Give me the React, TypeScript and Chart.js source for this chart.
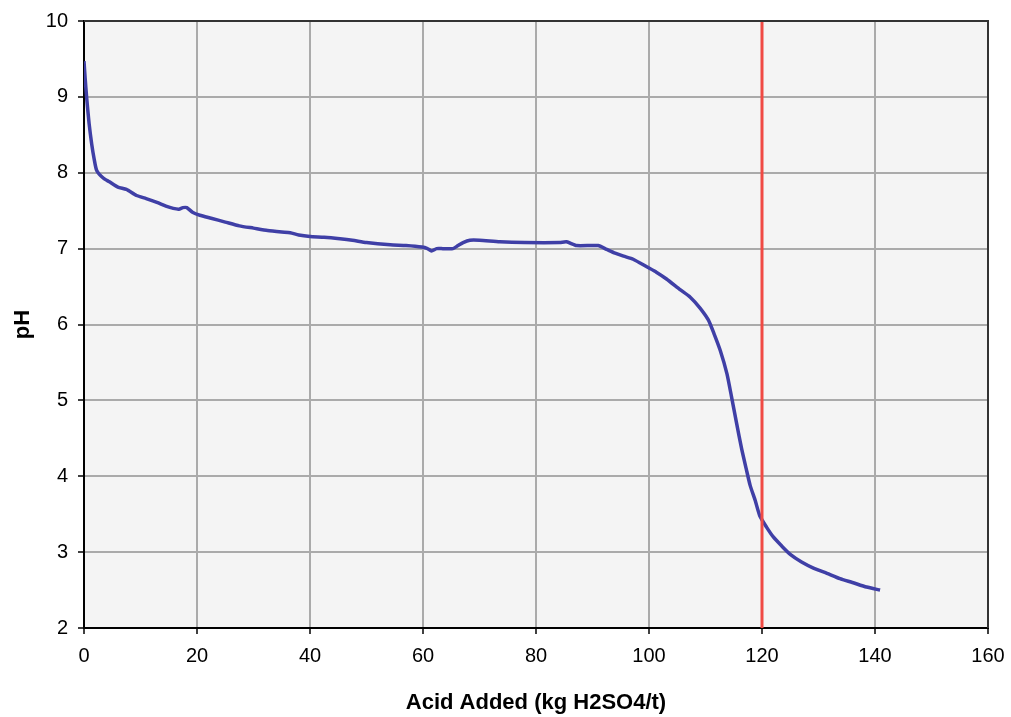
import React, { useEffect, useRef } from "react";
import { Chart, registerables } from "chart.js";

Chart.register(...registerables);

const acidAdded: number[] = [
  0, 0.2, 0.47, 0.9, 1.36, 1.8, 2.25, 3.4, 4.5, 6.0, 7.5, 9.3, 11, 12.9, 14.5, 15.8, 16.8, 17.5, 18.2, 19.2,
  20.5, 22.5, 25, 27.5, 30, 32.5, 35, 36.5, 38, 40, 42.5, 45.3, 47.5, 50, 54.2, 57, 59.8, 60.8, 61.5, 62.4,
  63.5, 65.3, 66.2, 67.1, 68.3, 70, 73.6, 78, 84.2, 85.4, 87.2, 91, 92.5, 94, 95.5, 97.2, 99.6, 101.3, 103.1,
  105.5, 107.3, 109, 110.5, 111.5, 112.6, 113.8, 114.6, 115.5, 116.4, 117.2, 117.9, 118.8, 119.6, 120.8, 122,
  123.5, 125, 127, 129.1, 131.5, 133.8, 136, 138.5, 140.9,
];

const phValues: number[] = [
  9.47, 9.25, 8.99, 8.65, 8.38, 8.18, 8.03, 7.93, 7.88, 7.81, 7.78, 7.7, 7.66, 7.61, 7.56, 7.53, 7.52, 7.54, 7.54, 7.48,
  7.44, 7.4, 7.35, 7.3, 7.27, 7.24, 7.22, 7.21, 7.18, 7.16, 7.15, 7.13, 7.11, 7.08, 7.05, 7.04, 7.02, 7.0, 6.97, 7.0,
  7.0, 7.0, 7.04, 7.08, 7.11, 7.11, 7.09, 7.08, 7.08, 7.09, 7.04, 7.04, 6.99, 6.94, 6.9, 6.86, 6.76, 6.69, 6.6,
  6.46, 6.36, 6.22, 6.06, 5.88, 5.66, 5.35, 5.05, 4.7, 4.36, 4.1, 3.88, 3.68, 3.48, 3.33, 3.2,
  3.08, 2.97, 2.87, 2.79, 2.72, 2.65, 2.6, 2.54, 2.5,
];

const markerX: number[] = [120, 120];
const markerY: number[] = [2, 10];

const xTitle = "Acid Added (kg H2SO4/t)";
const yTitle = "pH";

const FONT = "'Liberation Sans', Arial, sans-serif";

const bgPlugin = {
  id: "plotBg",
  beforeDraw(chart: any) {
    const { ctx, chartArea } = chart;
    ctx.save();
    ctx.fillStyle = "#f4f4f4";
    ctx.fillRect(chartArea.left, chartArea.top, chartArea.right - chartArea.left, chartArea.bottom - chartArea.top);
    ctx.restore();
  },
  afterDraw(chart: any) {
    const { ctx, chartArea } = chart;
    ctx.save();
    ctx.strokeStyle = "#333333";
    ctx.lineWidth = 2;
    ctx.beginPath();
    ctx.moveTo(chartArea.left, chartArea.top);
    ctx.lineTo(chartArea.right, chartArea.top);
    ctx.lineTo(chartArea.right, chartArea.bottom);
    ctx.stroke();
    ctx.restore();
  },
};

export default function App() {
  const ref = useRef<HTMLCanvasElement | null>(null);

  useEffect(() => {
    if (!ref.current) return;
    Chart.defaults.font.family = FONT;
    const chart = new Chart(ref.current, {
      type: "line",
      data: {
        datasets: [
          {
            data: markerX.map((x, i) => ({ x, y: markerY[i] })),
            borderColor: "#f04a44",
            borderWidth: 3,
            pointRadius: 0,
            fill: false,
          },
          {
            data: acidAdded.map((x, i) => ({ x, y: phValues[i] })),
            borderColor: "#3f3fa6",
            borderWidth: 3.5,
            pointRadius: 0,
            tension: 0.2,
            fill: false,
          },
        ],
      },
      options: {
        responsive: false,
        animation: false,
        layout: { padding: { top: 21, right: 23, left: 0, bottom: 0 } },
        plugins: { legend: { display: false }, tooltip: { enabled: false } },
        scales: {
          x: {
            type: "linear",
            min: 0,
            max: 160,
            afterFit(scale: any) {
              scale.height = 89;
              scale.paddingLeft = 0;
              scale.paddingRight = 0;
            },
            ticks: { stepSize: 20, color: "#000", font: { size: 20 }, padding: 10, maxRotation: 0 },
            grid: { color: "#aaaaaa", lineWidth: 2, tickColor: "#000", tickLength: 6, tickWidth: 1.5 },
            border: { display: true, color: "#000", width: 2 },
            title: {
              display: true,
              text: xTitle,
              color: "#000",
              font: { size: 22, weight: "bold" },
              padding: { top: 0, bottom: 1 },
            },
          },
          y: {
            type: "linear",
            min: 2,
            max: 10,
            afterFit(scale: any) {
              scale.width = 84;
              scale.paddingTop = 0;
              scale.paddingBottom = 0;
            },
            ticks: { stepSize: 1, color: "#000", font: { size: 20 }, padding: 10 },
            grid: { color: "#aaaaaa", lineWidth: 2, tickColor: "#000", tickLength: 6, tickWidth: 1.5 },
            border: { display: true, color: "#000", width: 2 },
            title: {
              display: true,
              text: yTitle,
              color: "#000",
              font: { size: 22, weight: "bold" },
              padding: { top: 10, bottom: 0 },
            },
          },
        },
      },
      plugins: [bgPlugin],
    });
    return () => chart.destroy();
  }, []);

  return (
    <div style={{ position: "absolute", left: 0, top: 0, width: 1011, height: 717, background: "#fff" }}>
      <canvas ref={ref} width={1011} height={717} style={{ display: "block" }} />
    </div>
  );
}
